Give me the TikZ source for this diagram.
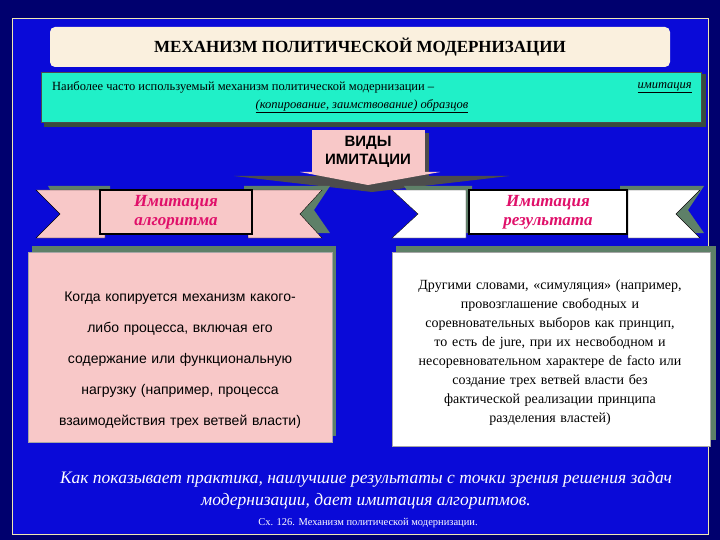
\documentclass[tikz,border=0pt]{standalone}
\usepackage{fontspec}
\setmainfont{Liberation Serif}
\newfontfamily\sansf{Liberation Sans}
\newcommand{\fs}[2]{\fontsize{#1}{#2}\selectfont}
\begin{document}
\begin{tikzpicture}[x=1pt,y=-1pt,
  rib/.style={draw=black,line width=1.5pt,font=\fs{17}{19}\itshape\bfseries,text=ribmag,align=center,inner sep=0pt},
  body/.style={draw=gray!70,line width=0.8pt}]
\definecolor{navy}{HTML}{00006E}
\definecolor{innerblue}{HTML}{0A0AD8}
\definecolor{cream}{HTML}{FAF0DE}
\definecolor{teal}{HTML}{20F0C8}
\definecolor{pinkb}{HTML}{F8C8C8}
\definecolor{shadowgreen}{HTML}{5E8068}
\definecolor{ribmag}{HTML}{E0106A}
\definecolor{framey}{HTML}{F0E8B0}
\useasboundingbox (0,0) rectangle (720,540);
\fill[navy] (0,0) rectangle (720,540);
\fill[innerblue] (12,18) rectangle (708,534);
\draw[framey,line width=0.8pt] (12,18) rectangle (708,534);
% title
\node[fill=cream,rounded corners=5pt,minimum width=620,minimum height=40,inner sep=0pt,font=\fs{17}{20}\bfseries] (title) at (360,47) {МЕХАНИЗМ ПОЛИТИЧЕСКОЙ МОДЕРНИЗАЦИИ};
% teal box
\fill[shadowgreen!60!black] (44,74) rectangle (706,127);
\node[fill=teal,draw=black!70,line width=1pt,minimum width=660,minimum height=50,anchor=north west,inner sep=0pt] (teal) at (41,72) {};
\node[font=\fs{12.5}{14},anchor=west,inner sep=0pt] (t1) at (52,87) {Наиболее часто используемый механизм политической модернизации –};
\node[font=\fs{12.5}{14}\itshape,anchor=east,inner sep=0pt] (t2) at (692,88) {\underline{имитация}};
\node[font=\fs{12.5}{14}\itshape,inner sep=0pt] (t3) at (362,106) {\underline{(копирование, заимствование) образцов}};
% arrow
\fill[black!70] (316,133) rectangle (429,176);
\fill[black!70] (234,176) -- (509,176) -- (372,192) -- cycle;
\fill[pinkb] (312,130) rectangle (425,172);
\fill[pinkb] (300,172) -- (440,172) -- (368,185) -- cycle;
\node[font=\sansf\bfseries\fs{15}{18},align=center,inner sep=0pt] (vid) at (368,152) {ВИДЫ\\ИМИТАЦИИ};
% left ribbon
\fill[shadowgreen] (48,186) -- (110,186) -- (110,233) -- (48,233) -- (62,210) -- cycle;
\fill[shadowgreen] (244,186) -- (330,186) -- (314,210) -- (330,233) -- (244,233) -- cycle;
\fill[pinkb,draw=black] (36,190) -- (105,190) -- (105,238) -- (36,238) -- (60,214) -- cycle;
\fill[pinkb,draw=black] (248,190) -- (322,190) -- (300,214) -- (322,238) -- (248,238) -- cycle;
\node[fill=pinkb,rib,minimum width=152,minimum height=44] (ra) at (176,212) {Имитация\\алгоритма};
% right ribbon
\fill[shadowgreen] (404,186) -- (472,186) -- (472,233) -- (404,233) -- (420,210) -- cycle;
\fill[shadowgreen] (620,186) -- (704,186) -- (688,210) -- (704,233) -- (620,233) -- cycle;
\fill[white,draw=black] (392,190) -- (466,190) -- (466,238) -- (392,238) -- (418,214) -- cycle;
\fill[white,draw=black] (628,190) -- (700,190) -- (676,214) -- (700,238) -- (628,238) -- cycle;
\node[fill=white,rib,minimum width=158,minimum height=44] (rb) at (548,212) {Имитация\\результата};
% bodies
\fill[shadowgreen] (32,246) rectangle (336,436);
\node[fill=pinkb,body,minimum width=304,minimum height=190,anchor=north west,inner sep=0pt] (ba) at (28,252) {};
\node[font=\sansf\fs{14}{31},align=center,text width=300,inner sep=0pt] (bat) at (180,360) {Когда копируется механизм какого-\\либо процесса, включая его\\содержание или функциональную\\нагрузку (например, процесса\\взаимодействия трех ветвей власти)};
\fill[shadowgreen] (396,246) rectangle (716,440);
\node[fill=white,body,minimum width=318,minimum height=194,anchor=north west,inner sep=0pt] (bb) at (392,252) {};
\node[font=\fs{14}{19},align=center,text width=312,inner sep=0pt] (bbt) at (550,353) {Другими словами, «симуляция» (например,\\провозглашение свободных и\\соревновательных выборов как принцип,\\то есть de jure, при их несвободном и\\несоревновательном характере de facto или\\создание трех ветвей власти без\\фактической реализации принципа\\разделения властей)};
% bottom
\node[font=\itshape\fs{17.5}{22},text=white,align=center] (bot) at (366,490) {Как показывает практика, наилучшие результаты с точки зрения решения задач\\модернизации, дает имитация алгоритмов.};
\node[font=\fs{10.5}{12},text=white] (cap) at (368,523) {Сх. 126. Механизм политической модернизации.};
\end{tikzpicture}
\end{document}
